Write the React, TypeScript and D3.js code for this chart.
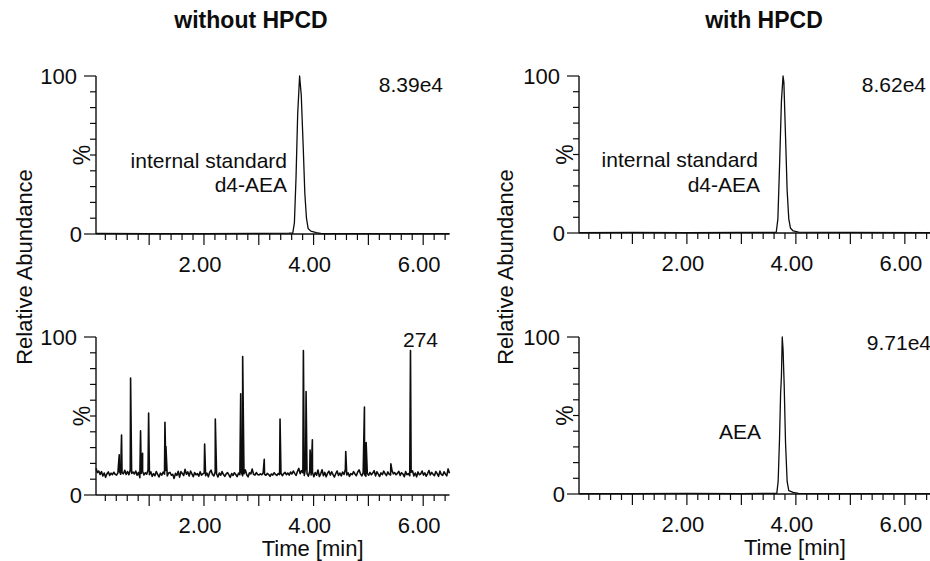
import * as d3 from "d3";

// ---- data ----
const xTicksMajor = [1, 2, 3, 4, 5, 6];
const xTickLabels = ["2.00", "4.00", "6.00"];
const xTickLabelValues = [2, 4, 6];
const yTicks = [0, 10, 20, 30, 40, 50, 60, 70, 80, 90, 100];

// d4-AEA, without HPCD  [time, %]
const isWithout: [number, number][] = [
  [0.03, 0.4], [1.0, 0.3], [2.0, 0.3], [3.0, 0.4], [3.55, 0.5], [3.62, 0.6],
  [3.65, 7], [3.68, 36], [3.71, 76], [3.745, 100], [3.775, 88], [3.81, 56],
  [3.84, 26], [3.87, 10], [3.9, 3.5], [3.95, 1.8], [4.05, 0.9], [4.15, 0.3],
  [5.0, 0.3], [6.48, 0.3],
];

// d4-AEA, with HPCD
const isWith: [number, number][] = [
  [0.02, 0.3], [1.0, 0.4], [2.0, 0.3], [3.0, 0.4], [3.6, 0.4], [3.64, 0.5],
  [3.67, 9], [3.70, 42], [3.735, 84], [3.765, 100], [3.78, 96], [3.81, 62],
  [3.84, 27], [3.87, 9], [3.9, 3.2], [3.95, 1.3], [4.05, 0.5], [5.0, 0.4],
  [6.48, 0.3],
];

// AEA, with HPCD
const aeaWith: [number, number][] = [
  [0.02, 0.3], [1.0, 0.3], [2.0, 0.4], [3.0, 0.3], [3.6, 0.4], [3.65, 0.4],
  [3.675, 8], [3.7, 35], [3.72, 64], [3.735, 75], [3.75, 100], [3.765, 92],
  [3.785, 70], [3.81, 33], [3.84, 8], [3.87, 2.2], [3.95, 1], [4.05, 0.4],
  [5.0, 0.3], [6.48, 0.3],
];

// AEA, without HPCD: noisy baseline sampled every 0.025 min from 0.03 min
const noiseStart = 0.03;
const noiseStep = 0.025;
const noiseBaseline = [
  17.0, 14.2, 15.1, 13.0, 14.8, 12.1, 13.9, 11.2, 13.5, 14.6, 12.4, 13.8, 12.9, 14.4, 13.1, 12.6, 14.0, 15.3, 13.2, 14.1,
  13.4, 15.6, 13.0, 14.9, 12.8, 16.0, 13.7, 14.5, 13.3, 15.2, 12.5, 14.3, 11.0, 13.6, 15.0, 12.7, 14.1, 13.2, 15.8, 12.9,
  14.7, 11.8, 13.5, 12.2, 14.9, 13.0, 11.4, 13.8, 12.6, 14.5, 13.2, 15.5, 12.0, 13.9, 14.3, 12.5, 13.1, 10.5, 13.7, 12.4,
  15.0, 11.3, 14.8, 13.6, 12.3, 16.2, 13.1, 14.6, 12.0, 15.1, 13.4, 11.6, 14.2, 12.8, 13.5, 11.9, 14.7, 12.6, 13.3, 14.0,
  12.2, 13.8, 11.5, 14.4, 15.7, 13.0, 12.1, 14.6, 13.3, 11.4, 13.9, 12.5, 14.8, 12.9, 11.8, 13.4, 14.2, 12.7, 11.2, 13.6,
  12.4, 14.1, 13.0, 11.6, 13.8, 12.9, 14.6, 12.2, 13.5, 15.9, 12.8, 11.5, 14.0, 13.3, 16.4, 13.1, 12.6, 14.2, 13.0, 12.7,
  13.4, 12.8, 14.0, 13.1, 12.5, 13.7, 12.9, 11.8, 13.3, 12.6, 14.1, 13.0, 12.4, 13.6, 12.9, 13.8, 12.2, 13.5, 14.3, 12.8,
  13.9, 12.6, 14.5, 13.3, 15.2, 13.7, 12.4, 14.9, 16.8, 13.5, 15.4, 14.1, 12.3, 17.2, 13.6, 11.9, 15.0, 12.7, 14.4, 11.6,
  14.2, 12.5, 15.8, 11.7, 13.4, 16.0, 12.2, 14.3, 11.5, 13.8, 15.1, 12.6, 14.7, 12.9, 11.4, 13.6, 15.2, 12.4, 13.9, 12.1,
  14.5, 13.0, 16.1, 12.7, 14.0, 11.8, 13.5, 12.9, 14.8, 13.3, 12.2, 14.6, 15.9, 13.4, 12.1, 14.2, 13.0, 11.9, 13.7, 12.5,
  14.3, 12.8, 13.9, 15.4, 12.1, 14.7, 13.2, 11.7, 14.0, 12.9, 15.1, 13.5, 12.3, 14.6, 13.1, 12.7, 15.6, 13.4, 14.2, 12.8,
  13.7, 15.0, 12.4, 14.1, 13.3, 11.6, 14.8, 12.9, 13.6, 12.2, 14.4, 15.3, 12.0, 13.9, 11.5, 14.6, 12.8, 13.4, 15.2, 12.6,
  14.0, 11.9, 13.6, 15.5, 12.7, 14.3, 13.1, 12.2, 14.9, 13.5, 11.8, 15.1, 13.0, 12.4, 14.7, 13.3, 12.1, 16.5, 13.8,
];
// spikes on top of the noise [time, %]
const noiseSpikes: [number, number][] = [
  [0.454, 25.4], [0.496, 38], [0.661, 74], [0.843, 40.6], [0.88, 26.4],
  [0.99, 51.8], [1.288, 46], [1.306, 30.7], [2.012, 32.3], [2.207, 48],
  [2.67, 64], [2.706, 87.7], [3.1, 22.6], [3.388, 48], [3.814, 91.5],
  [3.863, 65.5], [3.936, 28.5], [3.978, 34.9], [4.587, 27.5], [4.928, 55.6],
  [4.959, 33.2], [5.41, 19.7], [5.768, 91.5],
];

const FONT = "'Liberation Sans', Arial, sans-serif";
const W = 930;
const H = 561;
const INK = "#0d0d0d";

type Note = { text: string; x: number; y: number; anchor: string };

function Panel({ x, y, data, notes, xTitle, traceWidth = 1.3 }: {
  x: d3.ScaleLinear<number, number>;
  y: d3.ScaleLinear<number, number>;
  data: [number, number][];
  notes: Note[];
  xTitle?: boolean;
  traceWidth?: number;
}) {
  const [x0, xEnd] = x.range();
  const [y0, y1] = y.range();
  const line = d3.line<[number, number]>().x((d) => x(d[0])).y((d) => y(d[1]));
  // minor ticks every 0.2 min, majors every 1 min
  const minor = d3.range(1, 33).map((i) => i * 0.2).filter((t) => Math.abs(t - Math.round(t)) > 0.01);
  return (
    <g>
      <path d={line(data) || ""} fill="none" stroke={INK} strokeWidth={traceWidth} strokeLinejoin="round" />
      <line x1={x0} x2={x0} y1={y0} y2={y1} stroke={INK} strokeWidth={1.4} />
      <line x1={x0} x2={xEnd} y1={y0} y2={y0} stroke={INK} strokeWidth={1.4} />
      {yTicks.map((t) => (
        <line key={"y" + t} x1={x0 - (t === 0 || t === 100 ? 12 : 6)} x2={x0} y1={y(t)} y2={y(t)} stroke={INK} strokeWidth={1.2} />
      ))}
      {minor.map((t) => (
        <line key={"m" + t} x1={x(t)} x2={x(t)} y1={y0} y2={y0 + 6} stroke={INK} strokeWidth={1.2} />
      ))}
      {xTicksMajor.map((t) => (
        <line key={"M" + t} x1={x(t)} x2={x(t)} y1={y0} y2={y0 + 11} stroke={INK} strokeWidth={1.2} />
      ))}
      {xTickLabelValues.map((t, i) => (
        <text key={"l" + t} x={x(t) - 4} y={y0 + 38} textAnchor="middle" fontSize={22} fontFamily={FONT} fill={INK}>
          {xTickLabels[i]}
        </text>
      ))}
      <text x={x0 - 19} y={y(100) + 8} textAnchor="end" fontSize={22} fontFamily={FONT} fill={INK}>100</text>
      <text x={x0 - 14} y={y(0) + 8} textAnchor="end" fontSize={22} fontFamily={FONT} fill={INK}>0</text>
      <text transform={`translate(${x0 - 14},${y(50)}) rotate(-90)`} textAnchor="middle" dy="0.35em" fontSize={23} fontFamily={FONT} fill={INK}>%</text>
      {notes.map((n) => (
        <text key={n.text} x={n.x} y={n.y} textAnchor={n.anchor} fontSize={21} fontFamily={FONT} fill={INK}>{n.text}</text>
      ))}
      {xTitle && (
        <text x={x(4) - 1} y={y0 + 61} textAnchor="middle" fontSize={22} fontFamily={FONT} fill={INK}>Time [min]</text>
      )}
    </g>
  );
}

export default function App() {
  const xLeft = d3.scaleLinear().domain([0.03, 6.48]).range([96, 449.5]);
  const xRight = d3.scaleLinear().domain([0.02, 6.48]).range([579, 931]);
  const yTL = d3.scaleLinear().domain([0, 100]).range([234, 76]);
  const yBL = d3.scaleLinear().domain([0, 100]).range([495, 337]);
  const yTR = d3.scaleLinear().domain([0, 100]).range([233, 76]);
  const yBR = d3.scaleLinear().domain([0, 100]).range([494, 337]);

  const noisy: [number, number][] = noiseBaseline
    .map((v, i) => [noiseStart + i * noiseStep, v] as [number, number])
    .concat(noiseSpikes)
    .sort((a, b) => a[0] - b[0]);

  return (
    <svg width={W} height={H} style={{ position: "absolute", left: 0, top: 0, background: "#fff" }}>
      <rect width={W} height={H} fill="#fff" />
      <text x={251} y={28} textAnchor="middle" fontSize={23} fontWeight="bold" fontFamily={FONT} fill={INK}>without HPCD</text>
      <text x={764} y={28} textAnchor="middle" fontSize={23} fontWeight="bold" fontFamily={FONT} fill={INK}>with HPCD</text>
      <text transform="translate(32,267) rotate(-90)" textAnchor="middle" fontSize={22} fontFamily={FONT} fill={INK}>Relative Abundance</text>
      <text transform="translate(513,267) rotate(-90)" textAnchor="middle" fontSize={22} fontFamily={FONT} fill={INK}>Relative Abundance</text>

      <Panel x={xLeft} y={yTL} data={isWithout} notes={[
        { text: "8.39e4", x: 443, y: 92, anchor: "end" },
        { text: "internal standard", x: 287, y: 168, anchor: "end" },
        { text: "d4-AEA", x: 287, y: 192, anchor: "end" },
      ]} />
      <Panel x={xLeft} y={yBL} data={noisy} xTitle traceWidth={1.6} notes={[
        { text: "274", x: 438, y: 347, anchor: "end" },
      ]} />
      <Panel x={xRight} y={yTR} data={isWith} notes={[
        { text: "8.62e4", x: 926, y: 92, anchor: "end" },
        { text: "internal standard", x: 758, y: 167, anchor: "end" },
        { text: "d4-AEA", x: 760, y: 192, anchor: "end" },
      ]} />
      <Panel x={xRight} y={yBR} data={aeaWith} xTitle notes={[
        { text: "9.71e4", x: 931, y: 350, anchor: "end" },
        { text: "AEA", x: 740, y: 439, anchor: "middle" },
      ]} />
    </svg>
  );
}
